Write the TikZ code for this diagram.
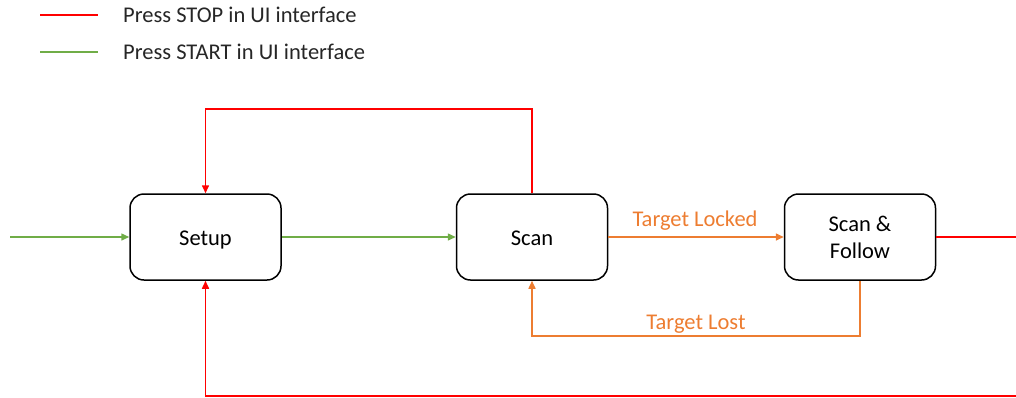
\documentclass[tikz,border=0pt]{standalone}
\usepackage{fontspec}
\setmainfont{Carlito}
\usetikzlibrary{arrows.meta}
\definecolor{stopred}{HTML}{FF0000}
\definecolor{startgreen}{HTML}{70AD47}
\definecolor{trackorange}{HTML}{ED7D31}
\tikzset{
  state/.style={draw=black, line width=1.5pt, rounded corners=14pt, fill=white,
    minimum width=151pt, minimum height=86pt, align=center,
    font=\fontsize{22.5}{27}\selectfont},
  oneline/.style={text height=21pt, text depth=5pt},
  link/.style={line width=1.5pt, -{Triangle[length=8pt,width=7pt]}},
  plain/.style={line width=1.5pt},
  lbl/.style={font=\fontsize{22.5}{27}\selectfont, inner sep=0pt},
}
\begin{document}
\begin{tikzpicture}[x=1pt, y=-1pt]
  \useasboundingbox (0,0) rectangle (1016,397);
  \clip (0,0) rectangle (1016,397);

  % legend
  \coordinate (r1) at (40,15);
  \coordinate (r2) at (98,15);
  \coordinate (g1) at (40,52);
  \coordinate (g2) at (98,52);
  \draw[plain, stopred] (r1) -- (r2);
  \draw[plain, startgreen] (g1) -- (g2);
  \node[lbl, anchor=west, text=black!85] (lstop) at (123,15) {Press STOP in UI interface};
  \node[lbl, anchor=west, text=black!85] (lstart) at (123,52) {Press START in UI interface};

  % states
  \node[state, oneline] (setup) at (205.5,237) {Setup};
  \node[state, oneline] (scan) at (532,237) {Scan};
  \node[state] (follow) at (860,237) {Scan \&\\Follow};

  % helper points
  \coordinate (in) at (10,237);
  \coordinate (out) at (1030,237);
  \coordinate (outdown) at (1030,396);
  \coordinate (bot) at (205.5,396);
  \coordinate (topR) at (532,109);
  \coordinate (topL) at (205.5,109);
  \coordinate (lostR) at (860,336);
  \coordinate (lostL) at (532,336);

  % start transitions
  \draw[link, startgreen] (in) -- (setup.west);
  \draw[link, startgreen] (setup.east) -- (scan.west);

  % stop transitions
  \draw[link, stopred] (scan.north) -- (topR) -- (topL) -- (setup.north);
  \draw[link, stopred] (follow.east) -- (out) -- (outdown) -- (bot) -- (setup.south);

  % tracking transitions
  \draw[link, trackorange] (scan.east) -- (follow.west);
  \node[lbl, text=trackorange] (locked) at (695,221) {Target Locked};
  \draw[link, trackorange] (follow.south) -- (lostR) -- (lostL) -- (scan.south);
  \node[lbl, text=trackorange] (lost) at (696,324) {Target Lost};
\end{tikzpicture}
\end{document}
